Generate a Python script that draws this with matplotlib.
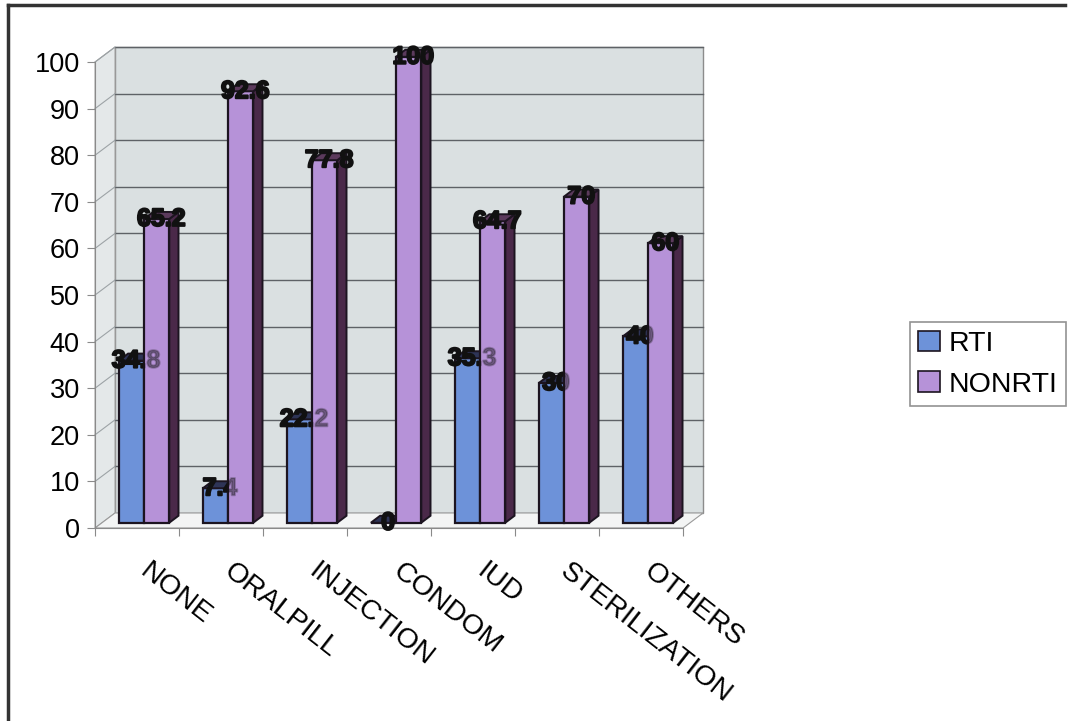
import numpy as np
import matplotlib.pyplot as plt
from matplotlib.patches import Polygon, Patch
from matplotlib.lines import Line2D
import matplotlib.patheffects as pe

plt.rcParams['font.family'] = ['Liberation Sans', 'DejaVu Sans']

methods = ["NONE", "ORALPILL", "INJECTION", "CONDOM", "IUD", "STERILIZATION", "OTHERS"]
rti = [34.8, 7.4, 22.2, 0, 35.3, 30, 40]
nonrti = [65.2, 92.6, 77.8, 100, 64.7, 70, 60]
yticks = list(range(0, 101, 10))

c_rti = "#6d92d9"
c_non = "#b692d8"
c_side = "#4a2949"
c_top_rti = "#2e3456"
c_top_non = "#5b3a5c"
edge = "#1c1420"

fig = plt.figure(figsize=(10.68, 7.21), dpi=100)
ax = fig.add_axes([0.089, 0.2677, 0.5506, 0.6463])
ax.set_xlim(-0.5, 6.5)
ax.set_ylim(0, 100)

# depth offset of the back wall, and of the bars inside the box
dx, dy = 0.238, 3.22
bx, by = 0.35 * dx, 0.35 * dy
ddx, ddy = 0.11, 1.5
w = 0.3
x0, x1 = -0.5, 6.5

# walls and floor
ax.add_patch(Polygon([(x0 + dx, dy), (x1 + dx, dy), (x1 + dx, 100 + dy), (x0 + dx, 100 + dy)],
                     closed=True, facecolor="#dae0e1", edgecolor="#8c8c8c", lw=1, zorder=0.5, clip_on=False))
ax.add_patch(Polygon([(x0, 0), (x0 + dx, dy), (x0 + dx, 100 + dy), (x0, 100)],
                     closed=True, facecolor="#e4e8e9", edgecolor="#a0a0a0", lw=0.8, zorder=0.5, clip_on=False))
ax.add_patch(Polygon([(x0, 0), (x1, 0), (x1 + dx, dy), (x0 + dx, dy)],
                     closed=True, facecolor="#f3f4f4", edgecolor="#9a9a9a", lw=0.8, zorder=0.6, clip_on=False))

for v in yticks[1:]:
    ax.plot([x0 + dx, x1 + dx], [v + dy, v + dy], color="#5e6266", lw=1, zorder=0.8, clip_on=False)
    ax.plot([x0, x0 + dx], [v, v + dy], color="#9da3a6", lw=0.8, zorder=0.8, clip_on=False)

x = np.arange(len(methods))

def draw_series(vals, left, face, top, z):
    ax.bar(left, vals, width=w, bottom=by, align='edge', color=face,
           edgecolor=edge, linewidth=1.6, zorder=z, clip_on=False)
    for xl, v in zip(left, vals):
        xr = xl + w
        yt = by + v
        ax.add_patch(Polygon([(xl, yt), (xl + ddx, yt + ddy), (xr + ddx, yt + ddy), (xr, yt)],
                             closed=True, facecolor=top, edgecolor=edge, lw=1.4, zorder=z, clip_on=False))
        ax.add_patch(Polygon([(xr, by), (xr + ddx, by + ddy), (xr + ddx, yt + ddy), (xr, yt)],
                             closed=True, facecolor=c_side, edgecolor=edge, lw=1.4, zorder=z - 0.1, clip_on=False))

draw_series(rti, x - w + bx, c_rti, c_top_rti, 2)
draw_series(nonrti, x + bx, c_non, c_top_non, 3)

# value labels
lab_kw = dict(ha='center', va='center', fontsize=18, fontweight='bold', color='#111111', clip_on=False,
              path_effects=[pe.withStroke(linewidth=1.4, foreground='#111111')])
for i, v in enumerate(rti):
    s = f"{v:g}"
    xc = i - w / 2 + bx + ddx / 2
    ax.text(xc, by + v, s, zorder=2.5, **lab_kw)
    ax.text(xc, by + v, s, zorder=3.5, alpha=0.25, **lab_kw)
for i, v in enumerate(nonrti):
    ax.text(i + w / 2 + bx + ddx / 2, by + v, f"{v:g}", zorder=4, **lab_kw)

# axes styling
for s in ("top", "right"):
    ax.spines[s].set_visible(False)
for s in ("left", "bottom"):
    ax.spines[s].set_color("#8a8a8a")
    ax.spines[s].set_zorder(0.9)
ax.set_facecolor("none")
ax.set_yticks(yticks)
ax.set_yticklabels([str(t) for t in yticks], fontsize=19.5)
ax.set_xticks(np.arange(-0.5, 7, 1))
ax.set_xticklabels([])
ax.tick_params(axis='both', length=6, color="#8a8a8a", pad=5)

for i, name in enumerate(methods):
    ax.text(i + 0.17, -6.4, name, rotation=-38, rotation_mode='anchor', ha='left', va='top',
            fontsize=20.5, clip_on=False)

handles = [Patch(facecolor=c_rti, edgecolor=edge, lw=1.2), Patch(facecolor=c_non, edgecolor=edge, lw=1.2)]
leg = fig.legend(handles, ["RTI", "NONRTI"], loc='center left', bbox_to_anchor=(0.852, 0.495),
                 fontsize=20.5, frameon=True, fancybox=False, handlelength=0.75, handleheight=0.75,
                 handletextpad=0.3, labelspacing=0.5, borderpad=0.3, borderaxespad=0)
leg.get_frame().set_edgecolor("#777777")
leg.get_frame().set_linewidth(1.2)

# outer frame (top and left edges)
fig.add_artist(Line2D([0.0075, 0.9975], [0.993, 0.993], color="#333333", lw=2.5))
fig.add_artist(Line2D([0.0075, 0.0075], [0.0, 0.993], color="#333333", lw=2.5))

fig.savefig("out.png", dpi=100)
